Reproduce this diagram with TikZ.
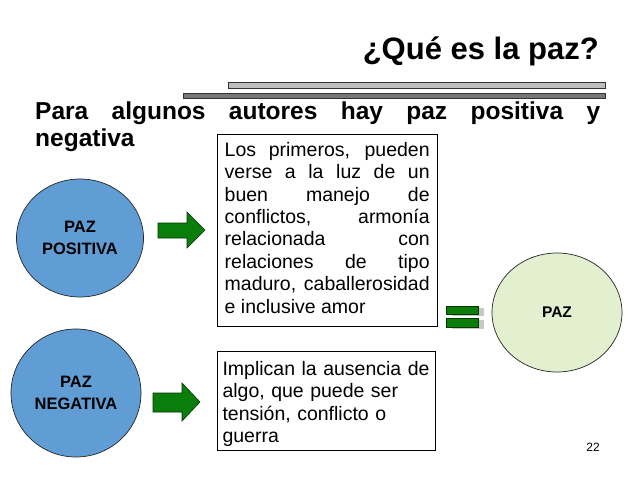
\documentclass[tikz,border=0pt]{standalone}
\usepackage{fontspec}
\setmainfont{Liberation Sans}
\usetikzlibrary{shapes.geometric}
\definecolor{bluefill}{RGB}{96,157,213}
\definecolor{greenfill}{RGB}{227,240,207}
\definecolor{arrowgreen}{RGB}{10,125,10}
\definecolor{arrowedge}{RGB}{0,55,0}
\definecolor{barlight}{RGB}{190,190,190}
\definecolor{bardark}{RGB}{120,120,120}
\begin{document}
\begin{tikzpicture}[x=1pt,y=-1pt,
  txt/.style={inner sep=0pt, anchor=north west},
  bodytext/.style={txt, font=\fontsize{19.5}{22.4}\selectfont},
  circ/.style={ellipse, draw=black!85, line width=0.7pt, inner sep=0pt, align=center,
               font=\fontsize{16.5}{22}\selectfont\bfseries},
  textbox/.style={draw=black, line width=0.8pt, anchor=north west, inner sep=0pt},
  blockarrow/.style={fill=arrowgreen, draw=arrowedge, line width=0.6pt, line join=miter},
  eqbar/.style={fill=arrowgreen, draw=arrowedge, line width=0.4pt},
  eqshadow/.style={fill=black!22, draw=none},
  titlebar/.style={draw=black!80, line width=0.6pt}]
\useasboundingbox (0,0) rectangle (638,479);
\fill[white] (0,0) rectangle (638,479);

% title
\node[inner sep=0pt, anchor=base east, font=\fontsize{31}{36}\selectfont\bfseries] (title) at (599,59) {¿Qué es la paz?};
\draw[titlebar, fill=barlight] (228,82) rectangle (605,88);
\draw[titlebar, fill=bardark] (183,93) rectangle (605,98);

% heading
\node[txt, text width=565pt, align=justify, font=\fontsize{24.5}{27.5}\selectfont\bfseries] (head) at (35,101.2)
  {Para algunos autores hay paz positiva y\linebreak negativa};

% circles
\node[circ, fill=bluefill, minimum width=127pt, minimum height=118pt] (pos) at (80,238) {PAZ\\POSITIVA};
\node[circ, fill=bluefill, minimum width=130pt, minimum height=128pt] (neg) at (76,393) {PAZ\\NEGATIVA};
\node[circ, fill=greenfill, minimum width=130pt, minimum height=119pt, font=\fontsize{15.5}{18}\selectfont\bfseries] (paz) at (557,312.5) {PAZ};

% block arrows
\draw[blockarrow] (158,223) -- (187,223) -- (187,212) -- (205,230) -- (187,248) -- (187,238) -- (158,238) -- cycle;
\draw[blockarrow] (153,393) -- (182,393) -- (182,383) -- (200,402) -- (182,421) -- (182,412) -- (153,412) -- cycle;

% boxes
\node[textbox, minimum width=220pt, minimum height=192pt] (box1) at (217,134) {};
\node[bodytext, text width=205pt, align=justify] (t1) at (224.5,142)
  {Los primeros, pueden\linebreak verse a la luz de un\linebreak buen manejo de\linebreak conflictos, armonía\linebreak relacionada con\linebreak relaciones de tipo\linebreak maduro, caballerosidad\linebreak e inclusive amor};
\node[textbox, minimum width=218pt, minimum height=99pt] (box2) at (217,351) {};
\node[bodytext, text width=212pt, align=left] (t2) at (222.3,361)
  {Implican la ausencia de\\algo, que puede ser\\tensión, conflicto o\\guerra};

% equals sign
\fill[eqshadow] (452,308) rectangle (484,316);
\fill[eqshadow] (452,320) rectangle (484,329);
\draw[eqbar] (446,306) rectangle (478,314);
\draw[eqbar] (446,318) rectangle (478,327);

% page number
\node[inner sep=0pt, anchor=base east, font=\fontsize{12}{14}\selectfont] (pagenum) at (600,451) {22};
\end{tikzpicture}
\end{document}
